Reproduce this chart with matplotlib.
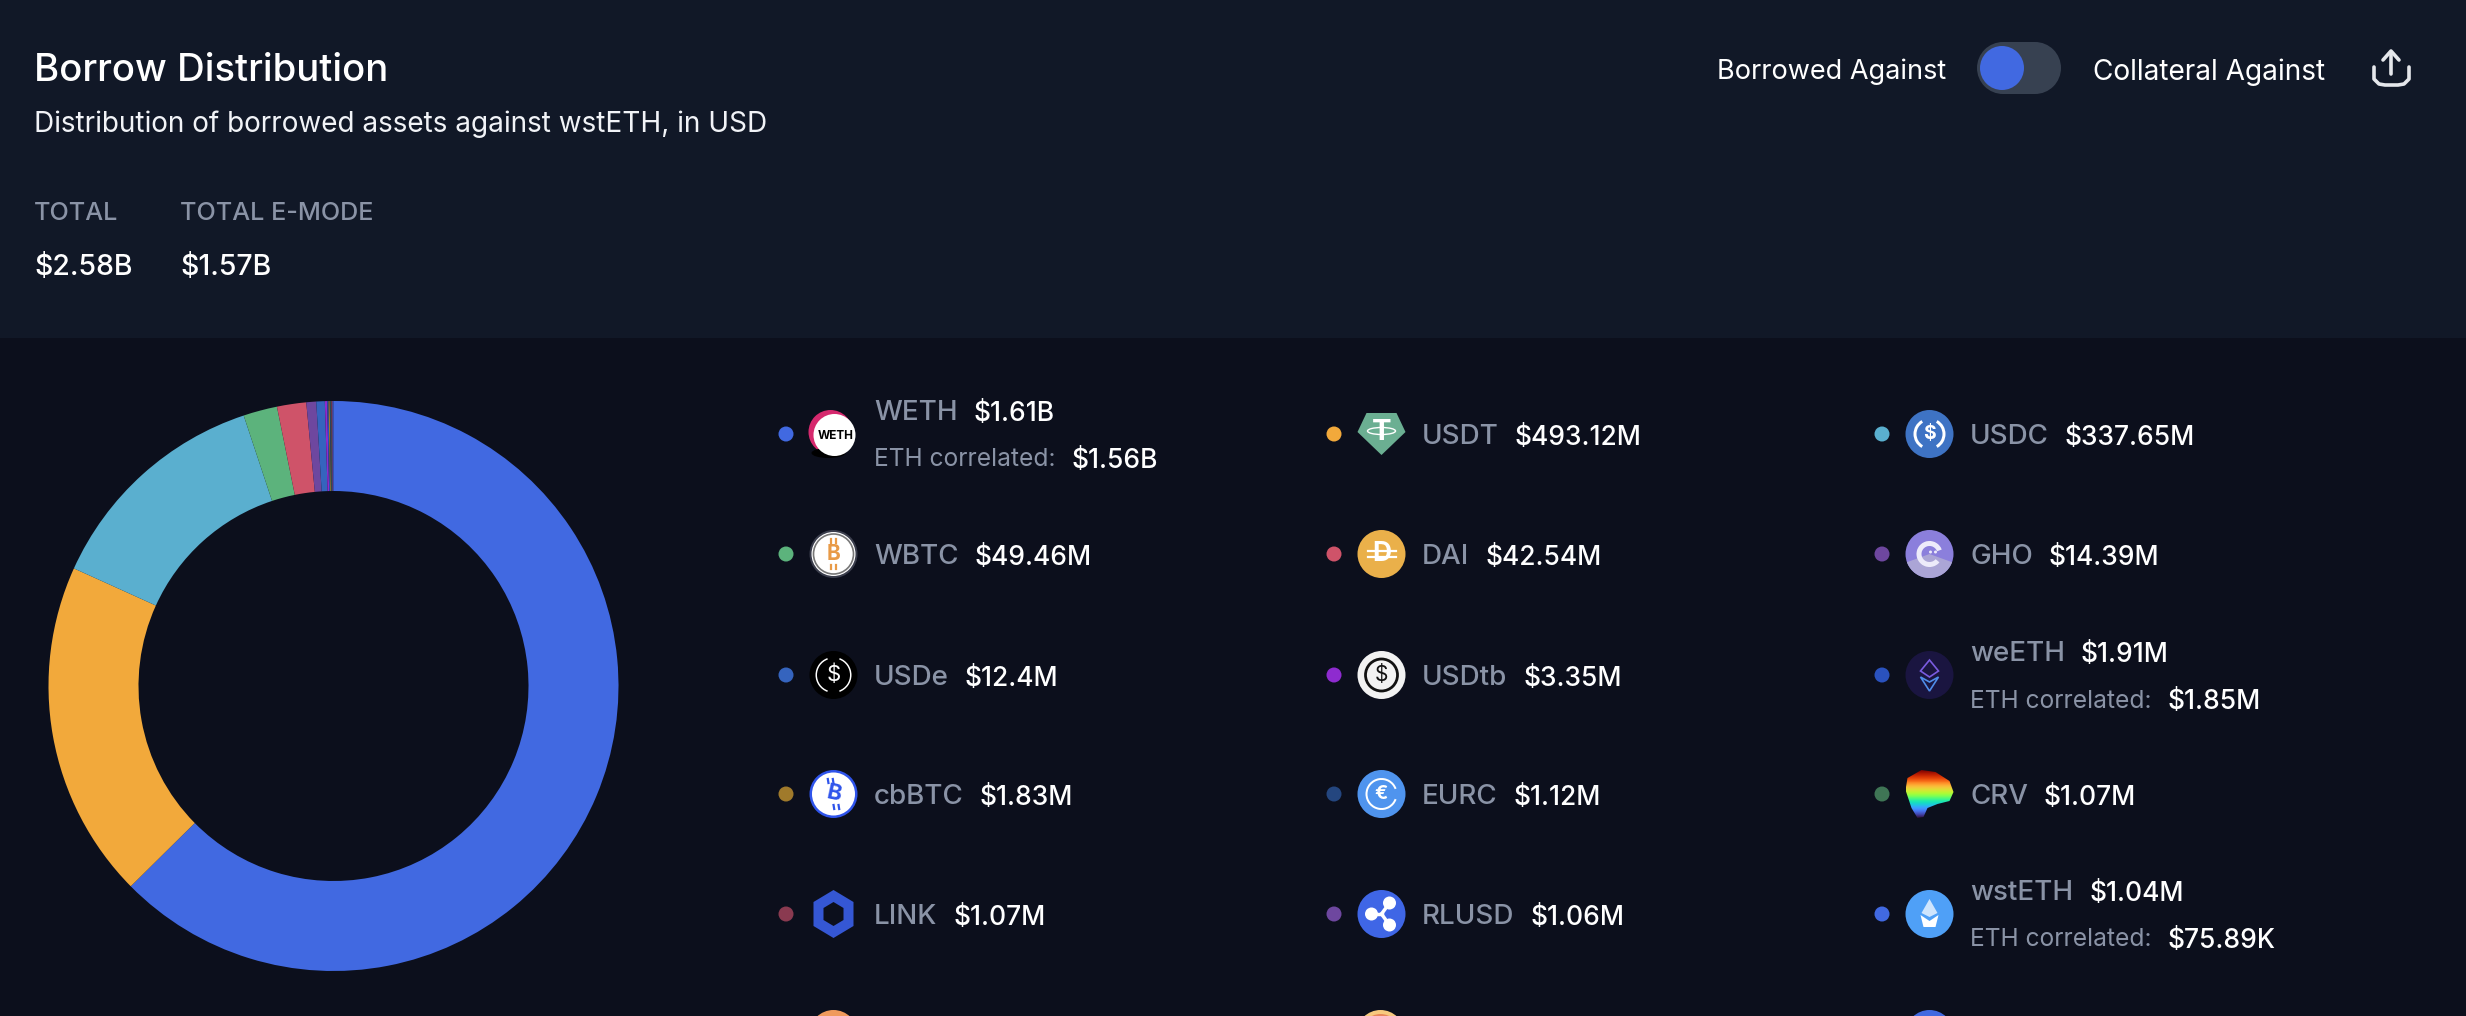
import numpy as np
import matplotlib
matplotlib.use("Agg")
import matplotlib.pyplot as plt
from matplotlib.patches import Circle, Rectangle, Polygon, Wedge, Ellipse

plt.rcParams['font.family'] = ['Inter', 'DejaVu Sans']

# values in million USD
tokens = ["WETH", "USDT", "USDC", "WBTC", "DAI", "GHO", "USDe", "USDtb", "weETH",
          "cbBTC", "EURC", "CRV", "LINK", "RLUSD", "wstETH"]
amounts = [1610, 493.12, 337.65, 49.46, 42.54, 14.39, 12.4, 3.35, 1.91,
           1.83, 1.12, 1.07, 1.07, 1.06, 1.04]
labels = ["$1.61B", "$493.12M", "$337.65M", "$49.46M", "$42.54M", "$14.39M", "$12.4M", "$3.35M",
          "$1.91M", "$1.83M", "$1.12M", "$1.07M", "$1.07M", "$1.06M", "$1.04M"]
colors = ["#4169E1", "#F2A93B", "#5AAFCF", "#5CB37C", "#CF5369", "#6E479F", "#3564BE", "#8E2BCF",
          "#2A52BE", "#A07A2B", "#24467F", "#3F7555", "#8A3A50", "#6E479F", "#4169E1"]
eth_correlated = {"WETH": "$1.56B", "weETH": "$1.85M", "wstETH": "$75.89K"}

W, H = 2466, 1016
BG_TOP = "#111827"
BG_BOTTOM = "#0C0F1C"
GREY = "#8A93A6"

fig = plt.figure(figsize=(W / 100, H / 100), dpi=100, facecolor=BG_BOTTOM)
ax = fig.add_axes([0, 0, 1, 1])
ax.set_xlim(0, W)
ax.set_ylim(H, 0)
ax.set_aspect("auto")
ax.axis("off")

ax.add_patch(Rectangle((0, 0), W, 338, color=BG_TOP, lw=0))

# header
ax.text(34, 71, "Borrow Distribution", color="white", fontsize=27.6, va="center", weight="medium")
ax.text(34, 124, "Distribution of borrowed assets against wstETH, in USD", color="#F1F3F7", fontsize=20.1, va="center")
ax.text(34, 214, "TOTAL", color=GREY, fontsize=18.2, va="center", weight="medium")
ax.text(180, 214, "TOTAL E-MODE", color=GREY, fontsize=18.2, va="center", weight="medium")
ax.text(34, 268, "$2.58B", color="white", fontsize=20.5, va="center", weight="medium")
ax.text(180, 268, "$1.57B", color="white", fontsize=20.5, va="center", weight="medium")

ax.text(1717, 72, "Borrowed Against", color="white", fontsize=19.5, va="center")
ax.text(2093, 72, "Collateral Against", color="white", fontsize=20.2, va="center")

# toggle
ax.add_patch(Rectangle((2003, 42), 32, 52, color="#374151", lw=0))
ax.add_patch(Circle((2003, 68), 26, color="#374151", lw=0))
ax.add_patch(Circle((2035, 68), 26, color="#374151", lw=0))
ax.add_patch(Circle((2002, 68), 22, color="#4169E1", lw=0))

# share icon
ax.plot([2374, 2374, 2379, 2385, 2398, 2404, 2409, 2409], [67, 79, 84, 85, 85, 84, 79, 67],
        color="#E5E7EB", lw=2.6, solid_capstyle="round", solid_joinstyle="round")
ax.plot([2391, 2391], [54, 74], color="#E5E7EB", lw=2.6, solid_capstyle="round")
ax.plot([2383, 2391, 2399], [60, 51, 60], color="#E5E7EB", lw=2.6, solid_capstyle="round", solid_joinstyle="round")

# donut
pie_ax = fig.add_axes([(333.5 - 285) / W, 1 - (686 + 285) / H, 570 / W, 570 / H])
pie_ax.pie(amounts, colors=colors, startangle=90, counterclock=False, radius=1,
           wedgeprops=dict(width=90 / 285, linewidth=0))
pie_ax.set_xlim(-1, 1)
pie_ax.set_ylim(-1, 1)

# legend layout
col_x = [786, 1334, 1882]
row_y = [434, 554, 675, 794, 914]


def bitcoin_sign(x, y, color, size, rotation=0):
    # the bitcoin sign is in none of the fonts, so a B with two small bars
    ax.text(x, y, "B", color=color, fontsize=size, weight="bold", ha="center", va="center", rotation=rotation)
    slant = np.tan(np.radians(rotation))
    for dx in (-2.5, 2.5):
        ax.plot([x + dx + 15 * slant, x + dx + 12 * slant], [y - 15, y - 11], color=color, lw=1.6)
        ax.plot([x + dx - 12 * slant, x + dx - 15 * slant], [y + 11, y + 15], color=color, lw=1.6)


def draw_icon(name, x, y):
    r = 24
    if name == "WETH":
        ax.add_patch(Circle((x - 3, y - 2), r - 2, color="#D6296E", lw=0))
        ax.add_patch(Ellipse((x - 5, y + 19), 34, 10, color="black", lw=0))
        ax.add_patch(Circle((x + 1, y + 1), r - 3, color="white", lw=0))
        ax.text(x + 2, y + 2, "WETH", color="black", fontsize=8.5, weight="bold", ha="center", va="center")
    elif name == "USDT":
        ax.add_patch(Polygon([(x - 15, y - 21), (x + 15, y - 21), (x + 24, y - 2), (x, y + 21), (x - 24, y - 2)],
                             color="#6BAF92", lw=0))
        ax.text(x, y - 1, "T", color="white", fontsize=21, weight="bold", ha="center", va="center")
        ax.add_patch(Ellipse((x, y - 3), 28, 7, fc="none", ec="white", lw=1))
    elif name == "USDC":
        ax.add_patch(Circle((x, y), r, color="#3E73C4", lw=0))
        ax.add_patch(Wedge((x, y), 16, 120, 240, width=3, color="white", lw=0))
        ax.add_patch(Wedge((x, y), 16, -60, 60, width=3, color="white", lw=0))
        ax.text(x, y, "$", color="white", fontsize=14, weight="bold", ha="center", va="center")
    elif name == "WBTC":
        ax.add_patch(Circle((x, y), r, color="#3A3D4C", lw=0))
        ax.add_patch(Circle((x, y), r - 2, color="white", lw=0))
        ax.add_patch(Circle((x, y), r - 4, fc="white", ec="#777", lw=1.2))
        bitcoin_sign(x, y, "#E89A47", 15)
    elif name == "DAI":
        ax.add_patch(Circle((x, y), r, color="#EAB04A", lw=0))
        ax.text(x, y, "D", color="white", fontsize=19, weight="bold", ha="center", va="center")
        ax.plot([x - 14, x + 14], [y - 3, y - 3], color="white", lw=1.6)
        ax.plot([x - 14, x + 14], [y + 3, y + 3], color="white", lw=1.6)
    elif name == "GHO":
        ax.add_patch(Circle((x, y), r, color="#8B7FDC", lw=0))
        ax.add_patch(Wedge((x, y), 24, 20, 160, color="#ABA5D6", lw=0))
        ax.add_patch(Wedge((x, y), 13, 40, 340, width=5, color="#EDEBFA", lw=0))
        ax.add_patch(Circle((x + 1, y - 2), 1.5, color="#EDEBFA", lw=0))
        ax.add_patch(Circle((x + 6, y - 2), 1.5, color="#EDEBFA", lw=0))
    elif name == "USDe":
        ax.add_patch(Circle((x, y), r, color="black", lw=0))
        ax.add_patch(Wedge((x, y), 18, 110, 250, width=1.5, color="white", lw=0))
        ax.add_patch(Wedge((x, y), 18, -70, 70, width=1.5, color="white", lw=0))
        ax.text(x, y, "$", color="white", fontsize=16, ha="center", va="center")
    elif name == "USDtb":
        ax.add_patch(Circle((x, y), r, color="#F2F2F2", lw=0))
        ax.add_patch(Circle((x, y), 16, fc="none", ec="#111", lw=2))
        ax.text(x, y, "$", color="#111", fontsize=15, ha="center", va="center")
    elif name == "weETH":
        ax.add_patch(Circle((x, y), r, color="#1A1540", lw=0))
        ax.add_patch(Polygon([(x, y - 15), (x + 9, y - 4), (x, y + 2), (x - 9, y - 4)],
                             fc="none", ec="#7A5BE0", lw=1.2))
        ax.add_patch(Polygon([(x - 9, y + 2), (x, y + 7), (x + 9, y + 2), (x, y + 16)],
                             fc="none", ec="#4F8CE8", lw=1.2))
    elif name == "cbBTC":
        ax.add_patch(Circle((x, y), r, color="#2F54EB", lw=0))
        ax.add_patch(Circle((x, y), r - 2.5, color="white", lw=0))
        bitcoin_sign(x, y, "#2F54EB", 16, rotation=-12)
    elif name == "EURC":
        ax.add_patch(Circle((x, y), r, color="#4F94EE", lw=0))
        ax.add_patch(Wedge((x, y), 16, 20, 340, width=2, color="white", lw=0))
        ax.text(x, y, "€", color="white", fontsize=14, weight="bold", ha="center", va="center")
    elif name == "CRV":
        # rainbow blob, gradient runs from red at the top to blue at the bottom
        grad = np.linspace(1, 0, 64).reshape(-1, 1)
        im = ax.imshow(grad, cmap="turbo", extent=(x - 24, x + 24, y + 24, y - 24), aspect="auto", zorder=3)
        blob = Polygon([(x - 8, y - 24), (x + 6, y - 22), (x + 20, y - 13), (x + 24, y - 2), (x + 20, y + 7),
                        (x + 8, y + 10), (x - 2, y + 14), (x - 6, y + 23), (x - 12, y + 24), (x - 18, y + 14),
                        (x - 24, y - 4), (x - 22, y - 16)], transform=ax.transData, fc="none", lw=0)
        ax.add_patch(blob)
        im.set_clip_path(blob)
        ax.set_xlim(0, W)
        ax.set_ylim(H, 0)
    elif name == "LINK":
        ax.add_patch(Polygon([(x, y - r), (x + 20, y - 12), (x + 20, y + 12), (x, y + r), (x - 20, y + 12), (x - 20, y - 12)],
                             color="#3557D4", lw=0))
        ax.add_patch(Polygon([(x, y - 12), (x + 10, y - 6), (x + 10, y + 6), (x, y + 12), (x - 10, y + 6), (x - 10, y - 6)],
                             color=BG_BOTTOM, lw=0))
    elif name == "RLUSD":
        ax.add_patch(Circle((x, y), r, color="#3F66E6", lw=0))
        for dx, dy in [(8, -11), (8, 11), (-10, 0)]:
            ax.add_patch(Circle((x + dx, y + dy), 6.5, color="white", lw=0))
            ax.plot([x, x + dx], [y, y + dy], color="white", lw=2.5)
    elif name == "wstETH":
        ax.add_patch(Circle((x, y), r, color="#4FA0F7", lw=0))
        ax.add_patch(Polygon([(x, y - 15), (x + 8, y - 1), (x, y + 3), (x - 8, y - 1)], color="#CFE5FD", lw=0))
        ax.add_patch(Polygon([(x - 9, y + 1), (x, y + 7), (x + 9, y + 1), (x + 6, y + 13), (x - 6, y + 13)], color="white", lw=0))


fig.canvas.draw()
rend = fig.canvas.get_renderer()


def after(txt):
    return txt.get_window_extent(rend).x1


for i, name in enumerate(tokens):
    cx = col_x[i % 3]
    cy = row_y[i // 3]
    ax.add_patch(Circle((cx, cy), 7.5, color=colors[i], lw=0))
    draw_icon(name, cx + 47.5, cy)
    tx = cx + 88
    if name in eth_correlated:
        ty = cy - 21
        t = ax.text(tx, ty, name, color=GREY, fontsize=20, va="center", weight="medium")
        ax.text(after(t) + 16, ty + 1, labels[i], color="white", fontsize=19, va="center", weight="medium")
        t2 = ax.text(tx, cy + 26, "ETH correlated:", color=GREY, fontsize=17.7, va="center")
        ax.text(after(t2) + 16, cy + 27, eth_correlated[name], color="white", fontsize=19, va="center", weight="medium")
    else:
        t = ax.text(tx, cy + 3, name, color=GREY, fontsize=20, va="center", weight="medium")
        ax.text(after(t) + 16, cy + 4, labels[i], color="white", fontsize=19, va="center", weight="medium")

# next row, cut by the bottom edge
ax.add_patch(Circle((833.5, 1034), 24, color="#F09A5C", lw=0))
ax.add_patch(Circle((1380.5, 1034), 24, color="#F7C97E", lw=0))
ax.add_patch(Circle((1380.5, 1034), 20, color="#E8875A", lw=0))
ax.add_patch(Circle((1929.5, 1034), 24, color="#4169E1", lw=0))

fig.savefig("out.png", dpi=100, facecolor=fig.get_facecolor())
